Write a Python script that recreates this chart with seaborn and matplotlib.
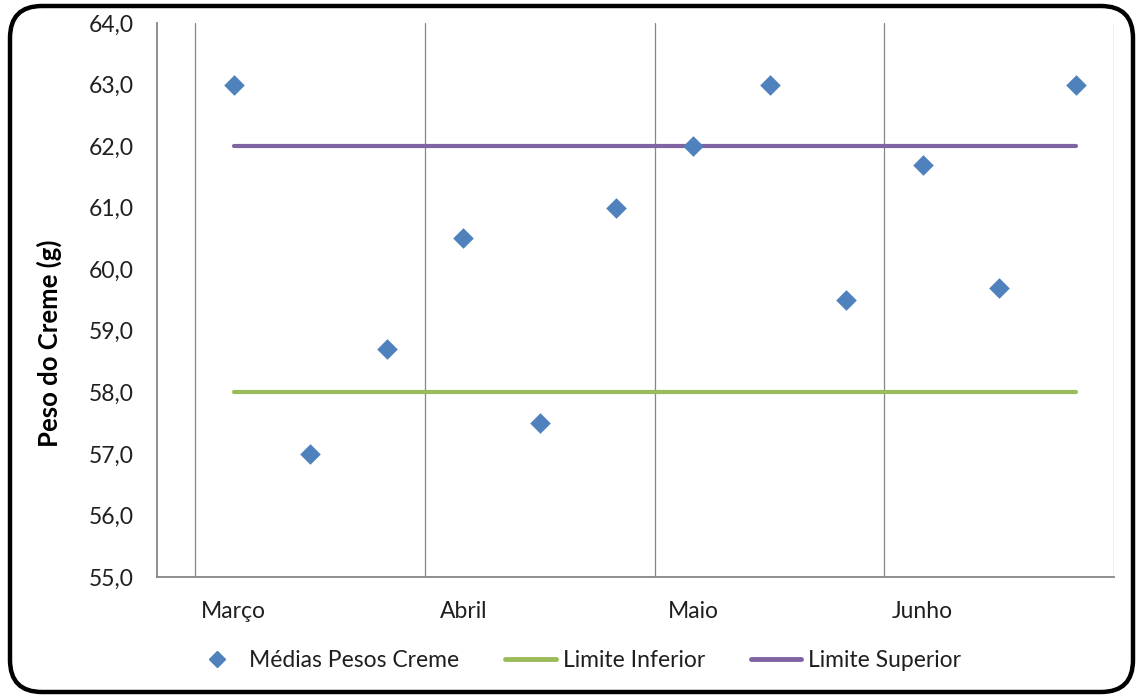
import numpy as np
import pandas as pd
import matplotlib
matplotlib.use("Agg")
import matplotlib.pyplot as plt
import seaborn as sns
from matplotlib.patches import FancyBboxPatch
from matplotlib.lines import Line2D
from matplotlib.transforms import IdentityTransform

# Monthly weight averages of the cream (g), three samples per month
meses = ["Março", "Abril", "Maio", "Junho"]
medias = [63.0, 57.0, 58.7, 60.5, 57.5, 61.0, 62.0, 63.0, 59.5, 61.7, 59.7, 63.0]
limite_inferior = 58.0
limite_superior = 62.0
amostras_por_mes = 3

sns.set_style("white")
plt.rcParams["font.family"] = ["Lato", "DejaVu Sans"]

azul = "#4F81BD"
verde = "#9BBB59"
roxo = "#8064A2"
cinza = "#868686"
texto = "#1f1f1f"

idx = np.arange(len(medias))
df = pd.DataFrame({
    "amostra": idx,
    "media": medias,
    "inf": [limite_inferior] * len(medias),
    "sup": [limite_superior] * len(medias),
})

fig = plt.figure(figsize=(11.37, 6.98), dpi=100)
ax = fig.add_axes([0.1381, 0.1734, 0.9798 - 0.1381, 0.9670 - 0.1734])

sns.lineplot(data=df, x="amostra", y="inf", ax=ax, color=verde, linewidth=3.0,
             solid_capstyle="round", zorder=2)
sns.lineplot(data=df, x="amostra", y="sup", ax=ax, color=roxo, linewidth=3.0,
             solid_capstyle="round", zorder=2)
sns.scatterplot(data=df, x="amostra", y="media", ax=ax, marker="D", s=110,
                color=azul, linewidth=0, zorder=3)

# Month boundaries as major ticks/gridlines, month names centred on first sample
limites = np.arange(len(meses) + 1) * amostras_por_mes - 0.5
ax.set_xlim(-1.0, limites[-1])
ax.set_xticks(limites)
ax.set_xticklabels([""] * len(limites))
ax.set_xticks(np.arange(len(meses)) * amostras_por_mes, minor=True)
ax.set_xticklabels(meses, minor=True)
ax.tick_params(axis="x", which="major", direction="out", length=8, width=1, color=cinza)
ax.tick_params(axis="x", which="minor", length=0, pad=17, labelsize=16.5, labelcolor=texto)
ax.xaxis.grid(True, which="major", color=cinza, linewidth=0.9)
ax.yaxis.grid(False)

ax.set_ylim(55, 64)
yt = np.arange(55, 65, 1)
ax.set_yticks(yt)
ax.set_yticklabels([f"{v:.1f}".replace(".", ",") for v in yt])
ax.tick_params(axis="y", length=0, pad=17, labelsize=16.5, labelcolor=texto)

for s in ["top", "right"]:
    ax.spines[s].set_visible(False)
for s in ["left", "bottom"]:
    ax.spines[s].set_color(cinza)
    ax.spines[s].set_linewidth(1.3)

ax.set_xlabel("")
ax.set_ylabel("Peso do Creme (g)", fontsize=18.5, fontweight="bold", color="black")
ax.yaxis.set_label_coords(-0.099, 0.422)

handles = [
    Line2D([], [], marker="D", color=azul, linestyle="none", markersize=8.5),
    Line2D([], [], color=verde, linewidth=3.5),
    Line2D([], [], color=roxo, linewidth=3.5),
]
labels = ["Médias Pesos Creme", "Limite Inferior", "Limite Superior"]
fig.legend(handles, labels, loc="center", bbox_to_anchor=(0.507, 0.054), ncol=3,
           frameon=False, fontsize=16.5, handlelength=2.2, handletextpad=0.3,
           columnspacing=2.0, labelcolor=texto)

# Rounded frame around the whole chart
frame = FancyBboxPatch((10, 6), 1123, 686, boxstyle="round,pad=0,rounding_size=32",
                       transform=IdentityTransform(), fill=False,
                       edgecolor="black", linewidth=3.2)
fig.add_artist(frame)

fig.savefig("out.png", dpi=100)
